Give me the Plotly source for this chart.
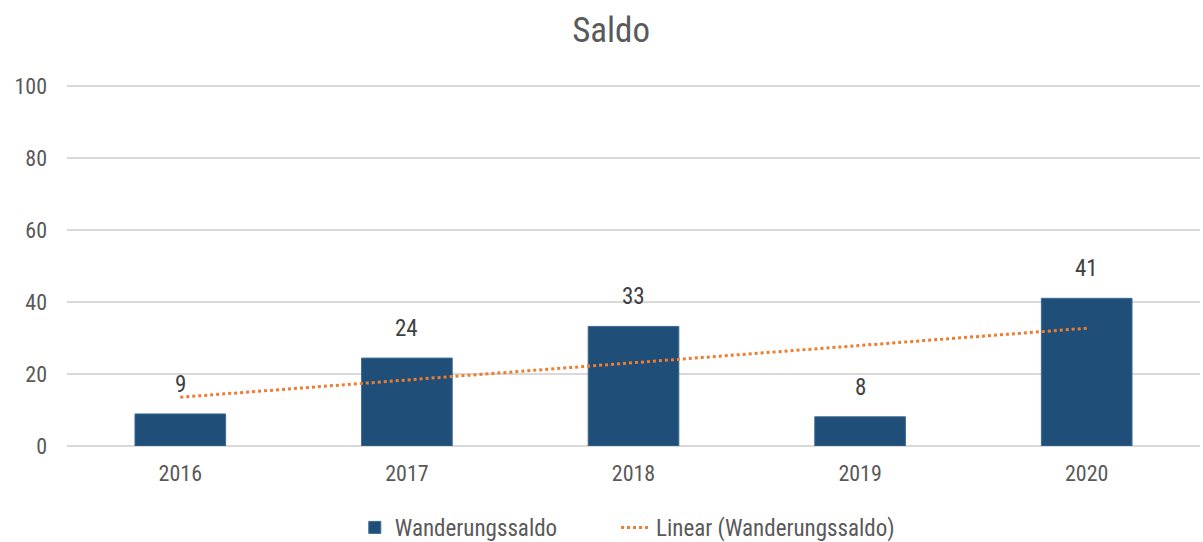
import numpy as np
import plotly.graph_objects as go

years = ["2016", "2017", "2018", "2019", "2020"]
saldo = [8.9, 24.4, 33.2, 8.1, 41.0]
y_ticks = [0, 20, 40, 60, 80, 100]

FONT = "Roboto Condensed, Liberation Sans Narrow, Arial Narrow, Roboto, sans-serif"
GRAY = "#595959"

# linear trend (least squares), like Excel's linear trendline
xi = np.arange(1, len(years) + 1)
slope, intercept = np.polyfit(xi, saldo, 1)
trend = slope * xi + intercept

fig = go.Figure()
fig.add_trace(go.Bar(
    x=years, y=saldo, name="Wanderungssaldo",
    marker=dict(color="#1F4E79", line=dict(color="#3c6a94", width=1)),
    width=0.4, legend="legend",
))
fig.add_trace(go.Scatter(
    x=years, y=trend, mode="lines", name="Linear (Wanderungssaldo)",
    line=dict(color="#ED7D31", width=3, dash="dot"), legend="legend2",
))

for i, v in enumerate(saldo):
    fig.add_annotation(x=i, y=v, xref="x", yref="y", text=f"{v:.0f}", showarrow=False,
                       yanchor="bottom", yshift=14,
                       font=dict(family=FONT, size=23, color="#404040"))

leg_common = dict(orientation="h", xanchor="left", y=-0.225, yanchor="middle",
                  font=dict(family=FONT, size=23, color=GRAY), bgcolor="rgba(0,0,0,0)")

fig.update_layout(
    width=1203, height=542,
    margin=dict(l=67, r=3, t=84, b=96, autoexpand=False),
    paper_bgcolor="white", plot_bgcolor="white",
    font=dict(family=FONT, color=GRAY, size=22),
    title=dict(text="Saldo", x=0.508, xanchor="center", y=0.945, yanchor="middle",
               font=dict(family=FONT, size=35, color=GRAY)),
    showlegend=True,
    legend=dict(x=0.254, **leg_common),
    legend2=dict(x=0.4846, **leg_common),
    xaxis=dict(type="category", range=[-0.5, 4.5], showgrid=False, showline=False, ticks="",
               ticklabelstandoff=12,
               tickfont=dict(family=FONT, size=22, color=GRAY)),
    yaxis=dict(range=[0, 100.5], tickvals=y_ticks, showgrid=True, gridcolor="#D9D9D9",
               gridwidth=1.5, zeroline=True, zerolinecolor="#D9D9D9", zerolinewidth=1.5,
               showline=False, ticks="", ticklabelstandoff=19,
               tickfont=dict(family=FONT, size=22, color=GRAY)),
)

fig.write_html("out.html", config={"displayModeBar": False},
               post_script="document.body.style.margin='0';document.body.style.overflow='hidden';")
